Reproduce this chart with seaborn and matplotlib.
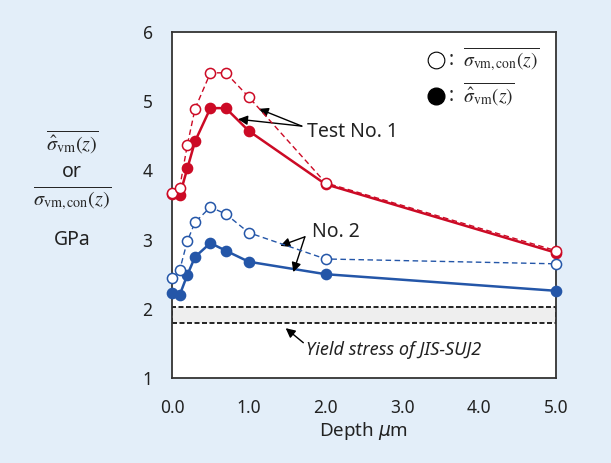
import numpy as np
import pandas as pd
import matplotlib
matplotlib.use('Agg')
import matplotlib.pyplot as plt
from matplotlib.lines import Line2D
from matplotlib.patches import Rectangle
import seaborn as sns

# depth (um) and stresses (GPa)
depth = [0.0, 0.1, 0.2, 0.3, 0.5, 0.7, 1.0, 2.0, 5.0]
test1_con = [3.67, 3.75, 4.37, 4.89, 5.41, 5.41, 5.06, 3.82, 2.84]
test1_hat = [3.66, 3.64, 4.03, 4.42, 4.90, 4.90, 4.57, 3.80, 2.81]
test2_con = [2.44, 2.56, 2.98, 3.25, 3.47, 3.37, 3.10, 2.72, 2.65]
test2_hat = [2.23, 2.20, 2.49, 2.75, 2.95, 2.84, 2.68, 2.50, 2.26]
yield_lo, yield_hi = 1.80, 2.02
x_ticks = [0.0, 1.0, 2.0, 3.0, 4.0, 5.0]
y_ticks = [1, 2, 3, 4, 5, 6]

RED = '#cc0a25'
BLUE = '#2456a8'
BG = '#e3eef9'

sns.set_style('white')
plt.rcParams['font.family'] = ['Noto Sans', 'DejaVu Sans']

df = pd.DataFrame({'depth': depth, 't1_con': test1_con, 't1_hat': test1_hat,
                   't2_con': test2_con, 't2_hat': test2_hat})

fig = plt.figure(figsize=(6.11, 4.63), dpi=100, facecolor=BG)
ax = fig.add_axes([172 / 611, 1 - 378 / 463, 384 / 611, 346 / 463])
ax.set_facecolor('white')

# yield stress band
ax.add_patch(Rectangle((0, yield_lo), 5.0, yield_hi - yield_lo, facecolor='#eeeeee',
                       edgecolor='black', linestyle=(0, (3, 1.5)), linewidth=1.2, zorder=1))

mk = 7.3
for col, color, filled in [('t2_hat', BLUE, True), ('t2_con', BLUE, False),
                           ('t1_hat', RED, True), ('t1_con', RED, False)]:
    sns.lineplot(data=df, x='depth', y=col, ax=ax, color=color, marker='o',
                 markersize=mk, linewidth=1.8 if filled else 1.0,
                 linestyle='-' if filled else (0, (4, 2.5)),
                 markerfacecolor=color if filled else 'white',
                 markeredgecolor=color, markeredgewidth=1.1,
                 zorder=3 if filled else 4, clip_on=False)

ax.set_xlim(0, 5.0)
ax.set_ylim(1, 6)
ax.set_xticks(x_ticks)
ax.set_xticklabels([f'{v:.1f}' for v in x_ticks])
ax.set_yticks(y_ticks)
ax.tick_params(axis='both', direction='in', length=5, width=1, color='#333333',
               labelsize=12.5, labelcolor='#222222')
ax.tick_params(axis='x', pad=15)
ax.tick_params(axis='y', pad=14)
for s in ax.spines.values():
    s.set_color('#333333')
    s.set_linewidth(1.3)
ax.set_xlabel(r'Depth $\mathit{\mu}$m', fontsize=13.5, color='#222222', labelpad=2,
              math_fontfamily='dejavusans')
ax.set_ylabel('')

# y label made of stacked lines
fig.text(0.118, 1 - 142 / 463, r'$\overline{\hat{\sigma}_{\rm vm}(z)}$', ha='center',
         va='center', fontsize=14.5, math_fontfamily='stix')
fig.text(0.118, 1 - 172 / 463, 'or', ha='center', va='center', fontsize=14, color='#222222')
fig.text(0.118, 1 - 199 / 463, r'$\overline{\sigma_{\rm vm,con}(z)}$', ha='center',
         va='center', fontsize=14.5, math_fontfamily='stix')
fig.text(0.118, 1 - 240 / 463, 'GPa', ha='center', va='center', fontsize=14, color='#222222')

# legend
handles = [Line2D([], [], marker='o', linestyle='none', markersize=12,
                  markerfacecolor='white', markeredgecolor='black', markeredgewidth=0.8),
           Line2D([], [], marker='o', linestyle='none', markersize=12,
                  markerfacecolor='black', markeredgecolor='black')]
labels = [r':  $\overline{\sigma_{\rm vm,con}(z)}$', r':  $\overline{\hat{\sigma}_{\rm vm}(z)}$']
leg = ax.legend(handles, labels, loc='upper right', frameon=False, fontsize=14,
                handletextpad=0.0, handlelength=1.2, labelspacing=0.35,
                borderaxespad=0.3, bbox_to_anchor=(0.99, 1.0))
for t in leg.get_texts():
    t.set_math_fontfamily('stix')

arrow = dict(arrowstyle='-|>', color='black', lw=1.0, mutation_scale=14, shrinkA=0, shrinkB=0)
ax.annotate('', xy=(1.13, 4.89), xytext=(1.69, 4.64), arrowprops=arrow)
ax.annotate('', xy=(0.86, 4.74), xytext=(1.69, 4.64), arrowprops=arrow)
ax.text(1.76, 4.55, 'Test No. 1', fontsize=14, va='center', color='#222222')

ax.annotate('', xy=(1.41, 2.91), xytext=(1.73, 3.04), arrowprops=arrow)
ax.annotate('', xy=(1.58, 2.53), xytext=(1.73, 3.04), arrowprops=arrow)
ax.text(1.82, 3.11, 'No. 2', fontsize=14, va='center', color='#222222')

ax.annotate('', xy=(1.48, 1.72), xytext=(1.71, 1.51), arrowprops=arrow)
ax.text(1.74, 1.40, 'Yield stress of JIS-SUJ2', fontsize=13, va='center',
        style='italic', color='#222222')

fig.savefig('out.png', dpi=100, facecolor=BG)
